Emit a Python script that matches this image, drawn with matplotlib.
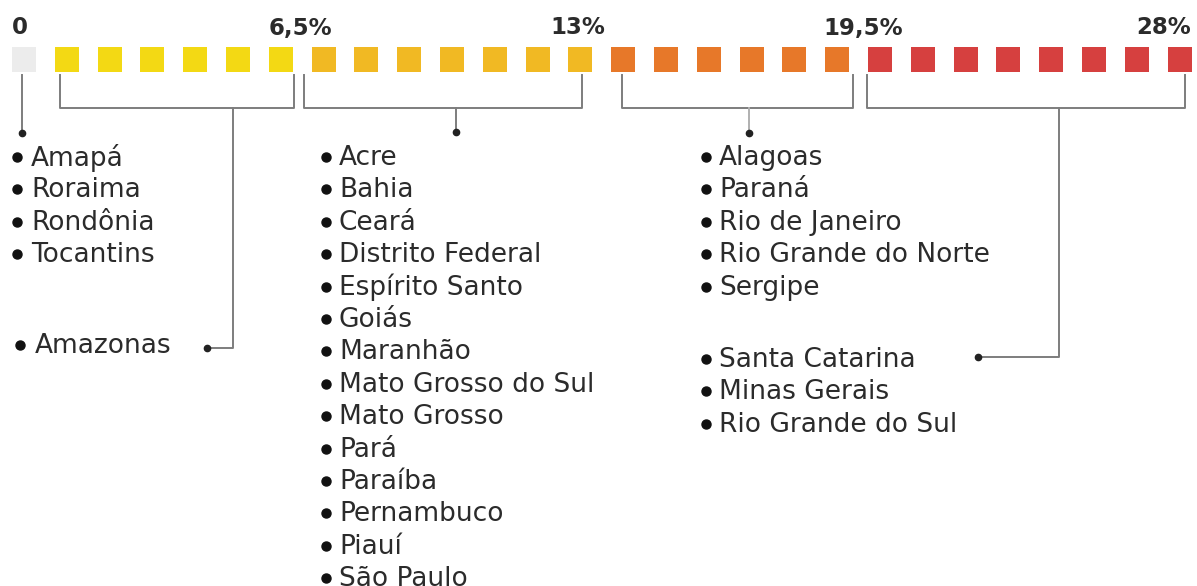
import matplotlib
matplotlib.use("Agg")
import matplotlib.pyplot as plt
from matplotlib.patches import Rectangle

# faixas de alíquota: número de quadrados por faixa e rótulos dos limites
band_counts = [1, 6, 7, 6, 8]
band_colors = ["#ececec", "#f3d914", "#f1b923", "#e77829", "#d6403f"]
limit_labels = ["0", "6,5%", "13%", "19,5%", "28%"]

# estados por faixa
states_zero = ["Amapá", "Roraima", "Rondônia", "Tocantins"]
states_yellow = ["Amazonas"]
states_amber = ["Acre", "Bahia", "Ceará", "Distrito Federal", "Espírito Santo",
                "Goiás", "Maranhão", "Mato Grosso do Sul", "Mato Grosso",
                "Pará", "Paraíba", "Pernambuco", "Piauí", "São Paulo"]
states_orange = ["Alagoas", "Paraná", "Rio de Janeiro", "Rio Grande do Norte",
                 "Sergipe"]
states_red = ["Santa Catarina", "Minas Gerais", "Rio Grande do Sul"]

W, H = 1197, 586
fig = plt.figure(figsize=(W / 100, H / 100), dpi=100)
ax = fig.add_axes([0, 0, 1, 1])
ax.set_xlim(0, W)
ax.set_ylim(H, 0)
ax.axis("off")

TEXT = "#2b2b2b"
LINE = "#7d7d7d"

# quadrados
x0, pitch, sq_w, sq_top, sq_h = 12, 42.8, 24, 47, 25
i = 0
for n, col in zip(band_counts, band_colors):
    for _ in range(n):
        ax.add_patch(Rectangle((x0 + i * pitch, sq_top), sq_w, sq_h,
                               facecolor=col, edgecolor="none"))
        i += 1

# rótulos dos limites
label_pos = [(12, "left"), (300, "center"), (578, "center"), (863, "center"), (1191, "right")]
for txt, (lx, ha) in zip(limit_labels, label_pos):
    ax.text(lx, 28, txt, ha=ha, va="center", fontsize=16.5, fontweight="bold",
            color=TEXT)

lw = 1.4
dot = dict(marker="o", markersize=4.5, color="#222222", linestyle="none")

# conector da faixa zero
ax.plot([22, 22], [75, 133], color=LINE, lw=lw)
ax.plot([22], [133], **dot)

# colchetes (esquerda, direita, haste)
brackets = [(60, 294, 233), (304, 582, 456), (622, 853, 749), (867, 1185, 1059)]
b_top, b_bot = 75, 108
for left, right, stem in brackets:
    ax.plot([left, left, right, right], [b_top, b_bot, b_bot, b_top],
            color=LINE, lw=lw)

# hastes
ax.plot([233, 233, 207], [b_bot, 348, 348], color=LINE, lw=lw)
ax.plot([207], [348], **dot)
ax.plot([456, 456], [b_bot, 132], color=LINE, lw=lw)
ax.plot([456], [132], **dot)
ax.plot([749, 749], [b_bot, 133], color="#b0b0b0", lw=lw)
ax.plot([749], [133], **dot)
ax.plot([1059, 1059, 978], [b_bot, 357, 357], color=LINE, lw=lw)
ax.plot([978], [357], **dot)

# listas de estados
step = 32.4
fs = 19


def draw_list(names, bx, tx, y_start):
    for k, name in enumerate(names):
        y = y_start + k * step
        ax.plot([bx], [y], marker="o", markersize=6.5, color="#111111")
        ax.text(tx, y + 1, name, ha="left", va="center", fontsize=fs,
                color=TEXT)


draw_list(states_zero, 17, 31, 157)
draw_list(states_yellow, 20, 35, 345)
draw_list(states_amber, 326, 339, 157)
draw_list(states_orange, 706, 719, 157)
draw_list(states_red, 706, 719, 359)

fig.savefig("out.png", dpi=100, facecolor="white")
